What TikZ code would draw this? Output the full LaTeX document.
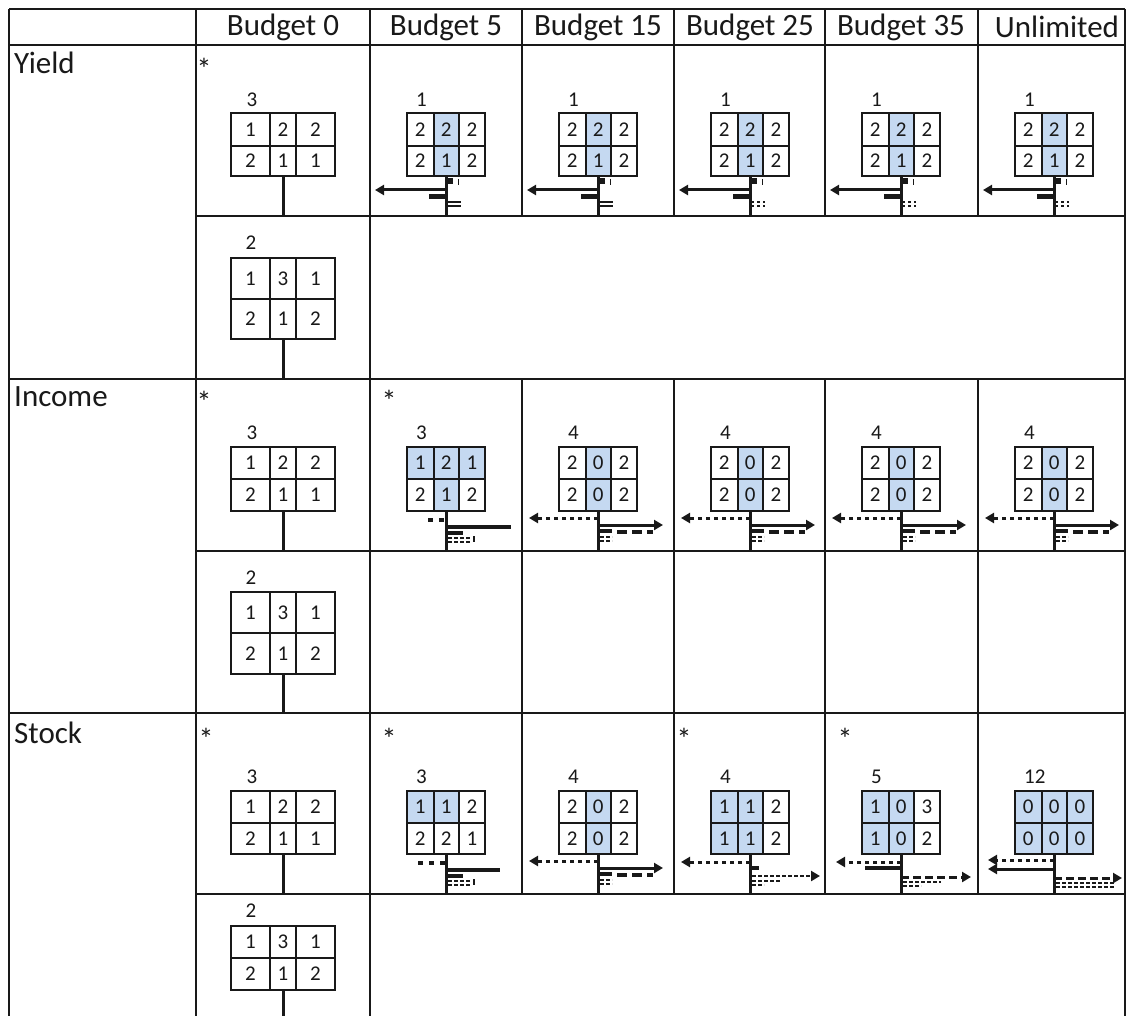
\documentclass[tikz,border=0pt]{standalone}
\usepackage{fontspec}
\setmainfont{Carlito}
\usetikzlibrary{arrows.meta}
\definecolor{hl}{RGB}{197,217,241}
\definecolor{ink}{RGB}{25,25,25}

% generic 2x3 grid: name, x0,x1,x2,x3, y0,y1,y2, cells value/fill
\newcommand\mkgrid[9]{%
  \foreach \v/\f [count=\i from 0] in {#9}{%
    \pgfmathtruncatemacro\gc{mod(\i,3)}%
    \pgfmathtruncatemacro\gr{int(\i/3)}%
    \edef\xl{\ifcase\numexpr\gc\relax #2\or #3\or #4\fi}%
    \edef\xr{\ifcase\numexpr\gc\relax #3\or #4\or #5\fi}%
    \edef\yt{\ifcase\numexpr\gr\relax #6\or #7\fi}%
    \edef\yb{\ifcase\numexpr\gr\relax #7\or #8\fi}%
    \fill[\f] (\xl,\yt) rectangle (\xr,\yb);
    \node[cellnum] (#1-\i) at ({(\xl+\xr)/2},{(\yt+\yb)/2}) {\v};
  }
  \draw[gridline] (#2,#6) rectangle (#5,#8);
  \draw[gridline] (#3,#6) -- (#3,#8) (#4,#6) -- (#4,#8) (#2,#7) -- (#5,#7);
}
% small grid in a budget column: name, column left, y0, y1, y2, cells
\newcommand\sgrid[6]{%
  \pgfmathsetmacro\gXa{#2+37}\pgfmathsetmacro\gXb{#2+63.5}%
  \pgfmathsetmacro\gXc{#2+89}\pgfmathsetmacro\gXd{#2+115}%
  \mkgrid{#1}{\gXa}{\gXb}{\gXc}{\gXd}{#3}{#4}{#5}{#6}%
}
% Yield icon
\newcommand\iconY[3]{%
\begin{scope}[shift={(#1,#2)}]
 \draw[stemline] (0,0) -- (0,40);
 \fill[ink] (0,2) rectangle (7,8);
 \draw[ink,line width=1pt] (12,3) -- (12,9);
 \draw[arrL] (0,14) -- (-71,14);
 \fill[ink] (-17,18) rectangle (0,23);
 \draw[ink,line width=1.5pt,#3] (1,26) -- (15,26) (1,30) -- (15,30);
\end{scope}}
% Income / Stock B5 icon
\newcommand\iconA[4]{%
\begin{scope}[shift={(#1,#2)}]
 \draw[stemline] (0,0) -- (0,40);
 \draw[ink,line width=4pt,dash pattern=on 5pt off 6pt] (#3,9) -- (0,9);
 \draw[ink,line width=4.5pt] (0,16) -- (#4,16);
 \draw[ink,line width=4pt] (0,22) -- (17,22);
 \draw[smalldash] (2,27) -- (24,27) (2,31) -- (24,31);
 \draw[ink,line width=1.5pt] (28,25) -- (28,31);
\end{scope}}
% Income B15+ icon
\newcommand\iconB[1]{%
\begin{scope}[shift={(#1)}]
 \draw[stemline] (0,0) -- (0,40);
 \draw[dotarr] (0,7) -- (-69,7);
 \draw[arrL] (0,14) -- (65,14);
 \draw[ink,line width=4pt] (0,20) -- (14,20);
 \draw[ink,line width=4pt,dash pattern=on 10pt off 5pt] (19,21) -- (55,21);
 \draw[smalldash] (2,26) -- (14,26) (2,30) -- (14,30);
\end{scope}}

\tikzset{
  tline/.style={ink,line width=2pt},
  gridline/.style={ink,line width=2pt},
  stemline/.style={ink,line width=3pt},
  arrL/.style={ink,line width=3pt,-{Triangle[length=9pt,width=10pt]}},
  dotarr/.style={ink,line width=3pt,dash pattern=on 4pt off 4pt,-{Triangle[length=9pt,width=10pt]}},
  dasharr/.style={ink,line width=3pt,dash pattern=on 8pt off 4pt,-{Triangle[length=9pt,width=10pt]}},
  smalldash/.style={ink,line width=1.5pt,dash pattern=on 4pt off 2pt},
  cellnum/.style={inner sep=0pt,text=ink,font=\fontsize{21}{24}\selectfont},
  lbl/.style={inner sep=0pt,text=ink,font=\fontsize{21}{24}\selectfont},
  star/.style={inner sep=0pt,text=ink,anchor=north,font=\fontsize{30}{34}\selectfont},
  hdr/.style={inner sep=0pt,text=ink,font=\fontsize{31}{36}\selectfont},
  rowlab/.style={inner sep=0pt,text=ink,anchor=west,font=\fontsize{31}{36}\selectfont},
}

\begin{document}
\begin{tikzpicture}[x=1pt,y=-1pt]
\useasboundingbox (0,0) rectangle (1126,1016);
\fill[white] (0,0) rectangle (1126,1016);

% ---------- table rules ----------
\draw[tline] (9,9) -- (1125,9);
\draw[tline] (9,45) -- (1125,45);
\draw[tline] (196,216) -- (1125,216);
\draw[tline] (9,379) -- (1125,379);
\draw[tline] (196,551) -- (1125,551);
\draw[tline] (9,713) -- (1125,713);
\draw[tline] (196,894) -- (1125,894);
\draw[tline] (9,9) -- (9,1016);
\draw[tline] (196,9) -- (196,1016);
\draw[tline] (370,9) -- (370,1016);
\foreach \cx in {522,674,825,978}{
  \draw[tline] (\cx,9) -- (\cx,216);
  \draw[tline] (\cx,379) -- (\cx,894);
}
\draw[tline] (1124.5,9) -- (1124.5,1016);

% ---------- header ----------
\node[hdr] (h0) at (283,27) {Budget 0};
\node[hdr] (h5) at (446,27) {Budget 5};
\node[hdr] (h15) at (598,27) {Budget 15};
\node[hdr] (h25) at (750,27) {Budget 25};
\node[hdr] (h35) at (901,27) {Budget 35};
\node[hdr] (hU) at (1057,27) {Unlimited};

\node[rowlab] (ry) at (14,63) {Yield};
\node[rowlab] (ri) at (14,397) {Income};
\node[rowlab] (rs) at (14,733) {Stock};

% ---------- Budget 0 column ----------
% Yield
\node[star] (ys0) at (204,58) {*};
\node[lbl] (yl0) at (252,100) {3};
\mkgrid{yg0}{231}{270}{296}{335}{113}{146}{176}{1/white,2/white,2/white,2/white,1/white,1/white}
\draw[stemline] (283,176) -- (283,216);
\node[lbl] (yl0b) at (251,243) {2};
\mkgrid{yg0b}{231}{270}{296}{335}{258}{299}{339}{1/white,3/white,1/white,2/white,1/white,2/white}
\draw[stemline] (283,339) -- (283,379);
% Income
\node[star] (is0) at (204,391) {*};
\node[lbl] (il0) at (252,433) {3};
\mkgrid{ig0}{231}{270}{296}{335}{447}{479}{511}{1/white,2/white,2/white,2/white,1/white,1/white}
\draw[stemline] (283,511) -- (283,551);
\node[lbl] (il0b) at (251,578) {2};
\mkgrid{ig0b}{231}{270}{296}{335}{592}{633}{674}{1/white,3/white,1/white,2/white,1/white,2/white}
\draw[stemline] (283,674) -- (283,713);
% Stock
\node[star] (ss0) at (206,728) {*};
\node[lbl] (sl0) at (252,777) {3};
\mkgrid{sg0}{231}{270}{296}{335}{791}{823}{854}{1/white,2/white,2/white,2/white,1/white,1/white}
\draw[stemline] (283,854) -- (283,894);
\node[lbl] (sl0b) at (251,911) {2};
\mkgrid{sg0b}{231}{270}{296}{335}{926}{958}{990}{1/white,3/white,1/white,2/white,1/white,2/white}
\draw[stemline] (283,990) -- (283,1016);

% ---------- Yield row, budgets ----------
\foreach \cl/\nm in {370/a,522/b,674/c,825/d,978/e}{
  \node[lbl,anchor=west] (yl-\nm) at (\cl+46,100) {1};
  \sgrid{yg-\nm}{\cl}{113}{146}{176}{2/white,2/hl,2/white,2/white,1/hl,2/white}
}
\iconY{446}{176}{solid}
\iconY{598}{176}{solid}
\iconY{750}{176}{dash pattern=on 3pt off 3pt}
\iconY{901}{176}{dash pattern=on 3pt off 3pt}
\iconY{1054}{176}{dash pattern=on 3pt off 3pt}

% ---------- Income row, budgets ----------
\node[star] (is5) at (389,390) {*};
\node[lbl,anchor=west] (il-a) at (416,433) {3};
\sgrid{ig-a}{370}{447}{479}{511}{1/hl,2/hl,1/hl,2/white,1/hl,2/white}
\iconA{446}{511}{-18}{65}
\foreach \cl/\nm in {522/b,674/c,825/d,978/e}{
  \node[lbl,anchor=west] (il-\nm) at (\cl+46,433) {4};
  \sgrid{ig-\nm}{\cl}{447}{479}{511}{2/white,0/hl,2/white,2/white,0/hl,2/white}
}
\iconB{598,511}
\iconB{750,511}
\iconB{901,511}
\iconB{1054,511}

% ---------- Stock row, budgets ----------
\node[star] (ss5) at (389,728) {*};
\node[lbl,anchor=west] (sl-a) at (416,777) {3};
\sgrid{sg-a}{370}{791}{823}{854}{1/hl,1/hl,2/white,2/white,2/white,1/white}
\iconA{446}{854}{-28}{54}

\node[lbl,anchor=west] (sl-b) at (568,777) {4};
\sgrid{sg-b}{522}{791}{823}{854}{2/white,0/hl,2/white,2/white,0/hl,2/white}
\iconB{598,854}

\node[star] (ss25) at (684,728) {*};
\node[lbl,anchor=west] (sl-c) at (720,777) {4};
\sgrid{sg-c}{674}{791}{823}{854}{1/hl,1/hl,2/white,1/hl,1/hl,2/white}
\begin{scope}[shift={(750,854)}]
 \draw[stemline] (0,0) -- (0,40);
 \draw[dotarr] (0,8) -- (-69,8);
 \draw[ink,line width=4pt] (0,14) -- (9,14);
 \draw[ink,line width=2.5pt,dash pattern=on 4pt off 2pt,-{Triangle[length=9pt,width=10pt]}] (2,22) -- (70,22);
 \draw[smalldash] (2,27) -- (30,27) (2,31) -- (14,31);
\end{scope}

\node[star] (ss35) at (845,728) {*};
\node[lbl,anchor=west] (sl-d) at (871,777) {5};
\sgrid{sg-d}{825}{791}{823}{854}{1/hl,0/hl,3/white,1/hl,0/hl,2/white}
\begin{scope}[shift={(901,854)}]
 \draw[stemline] (0,0) -- (0,40);
 \draw[dotarr] (0,8) -- (-65,8);
 \draw[ink,line width=4.5pt] (-36,14) -- (0,14);
 \draw[dasharr] (0,23) -- (70,23);
 \draw[smalldash] (2,28) -- (40,28) (2,32) -- (20,32);
\end{scope}

\node[lbl,anchor=west] (sl-e) at (1024,777) {12};
\sgrid{sg-e}{978}{791}{823}{854}{0/hl,0/hl,0/hl,0/hl,0/hl,0/hl}
\begin{scope}[shift={(1054,854)}]
 \draw[stemline] (0,0) -- (0,40);
 \draw[dotarr] (0,6) -- (-66,6);
 \draw[arrL] (0,15) -- (-66,15);
 \draw[dasharr] (0,24) -- (68,24);
 \draw[smalldash] (2,29) -- (60,29) (2,33) -- (60,33);
\end{scope}
\end{tikzpicture}
\end{document}
